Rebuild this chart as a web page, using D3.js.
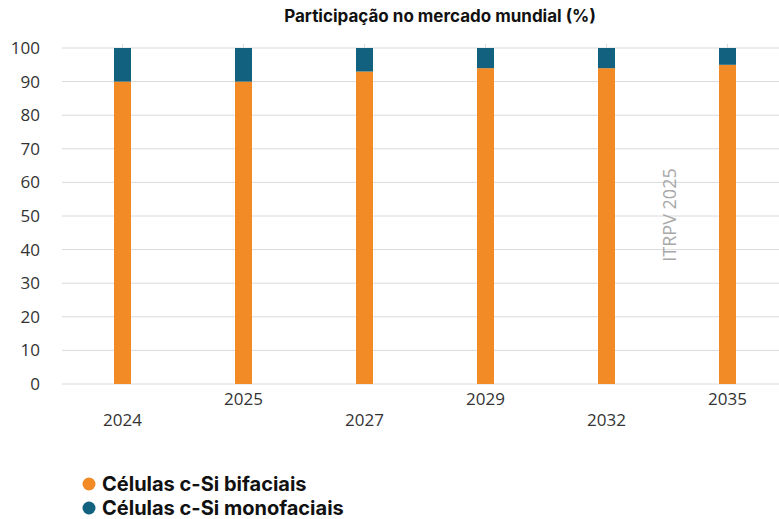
<!DOCTYPE html>
<html>
<head>
<meta charset="utf-8">
<script src="https://cdn.jsdelivr.net/npm/d3@7"></script>
<style>
  body { margin: 0; background: #fff; }
  #chart { width: 779px; height: 519px; display: block; }
  .tick text { font-family: "Open Sans", sans-serif; font-size: 17px; fill: #333; }
</style>
</head>
<body>
<svg id="chart"></svg>
<script>
const years = ["2024", "2025", "2027", "2029", "2032", "2035"];
const bifacial = [90, 90, 93, 94, 94, 95];
const monofacial = [10, 10, 7, 6, 6, 5];
const yTicks = [0, 10, 20, 30, 40, 50, 60, 70, 80, 90, 100];
const seriesNames = ["Células c-Si bifaciais", "Células c-Si monofaciais"];
const colors = ["#f28a26", "#12617f"];

const svg = d3.select('#chart');
const margin = { top: 48, left: 62, right: -9, bottom: 135 };
const width = 779, height = 519;
const innerW = width - margin.left - margin.right;
const innerH = height - margin.top - margin.bottom;

const data = years.map((y, i) => ({ year: y, bi: bifacial[i], mono: monofacial[i] }));

const x = d3.scaleBand().domain(years).range([0, innerW]);
const y = d3.scaleLinear().domain([0, 100]).range([innerH, 0]);
const barW = 17;

const g = svg.append('g').attr('transform', `translate(${margin.left},${margin.top})`);

// gridlines
g.selectAll('.grid').data(yTicks).enter().append('line')
  .attr('x1', 0).attr('x2', innerW)
  .attr('y1', d => y(d)).attr('y2', d => y(d))
  .attr('stroke', '#dadada').attr('stroke-width', 1);

// small ticks above bars
g.selectAll('.xt').data(years).enter().append('line')
  .attr('x1', d => x(d) + x.bandwidth() / 2).attr('x2', d => x(d) + x.bandwidth() / 2)
  .attr('y1', -4).attr('y2', 0)
  .attr('stroke', '#dadada');

// y axis labels
const yAxis = d3.axisLeft(y).tickValues(yTicks).tickSize(0).tickPadding(22);
g.append('g').call(yAxis).call(a => a.select('.domain').remove());

// bars
g.selectAll('.bi').data(data).enter().append('rect')
  .attr('x', d => x(d.year) + x.bandwidth() / 2 - barW / 2)
  .attr('width', barW)
  .attr('y', d => y(d.bi))
  .attr('height', d => y(0) - y(d.bi))
  .attr('fill', colors[0]);
g.selectAll('.mono').data(data).enter().append('rect')
  .attr('x', d => x(d.year) + x.bandwidth() / 2 - barW / 2)
  .attr('width', barW)
  .attr('y', d => y(d.bi + d.mono))
  .attr('height', d => y(d.bi) - y(d.bi + d.mono))
  .attr('fill', colors[1]);

// x labels, staggered
const xAxis = d3.axisBottom(x).tickSize(0).tickPadding(0);
const gx = g.append('g').attr('transform', `translate(0,${innerH})`).call(xAxis);
gx.select('.domain').remove();
gx.selectAll('.tick text')
  .attr('y', (d, i) => i % 2 === 0 ? 42 : 21)
  .attr('dy', 0);

// watermark
svg.append('text')
  .attr('transform', 'translate(676,215) rotate(-90)')
  .attr('text-anchor', 'middle')
  .attr('font-family', '"Open Sans", sans-serif')
  .attr('font-size', 18)
  .attr('fill', '#a8a8a8')
  .text('ITRPV 2025');

// title
svg.append('text')
  .attr('x', 440).attr('y', 22)
  .attr('text-anchor', 'middle')
  .attr('font-family', 'Inter, sans-serif')
  .attr('font-weight', 'bold')
  .attr('font-size', 17)
  .attr('fill', '#111')
  .text('Participação no mercado mundial (%)');

// legend
const leg = svg.append('g').attr('transform', 'translate(89,484)');
seriesNames.forEach((name, i) => {
  const row = leg.append('g').attr('transform', `translate(0,${i * 24})`);
  row.append('circle').attr('r', 6.5).attr('fill', colors[i]);
  row.append('text').attr('x', 13).attr('y', 7)
    .attr('font-family', 'Inter, sans-serif')
    .attr('font-weight', 'bold')
    .attr('font-size', 20)
    .attr('fill', '#111')
    .text(name);
});
</script>
</body>
</html>
